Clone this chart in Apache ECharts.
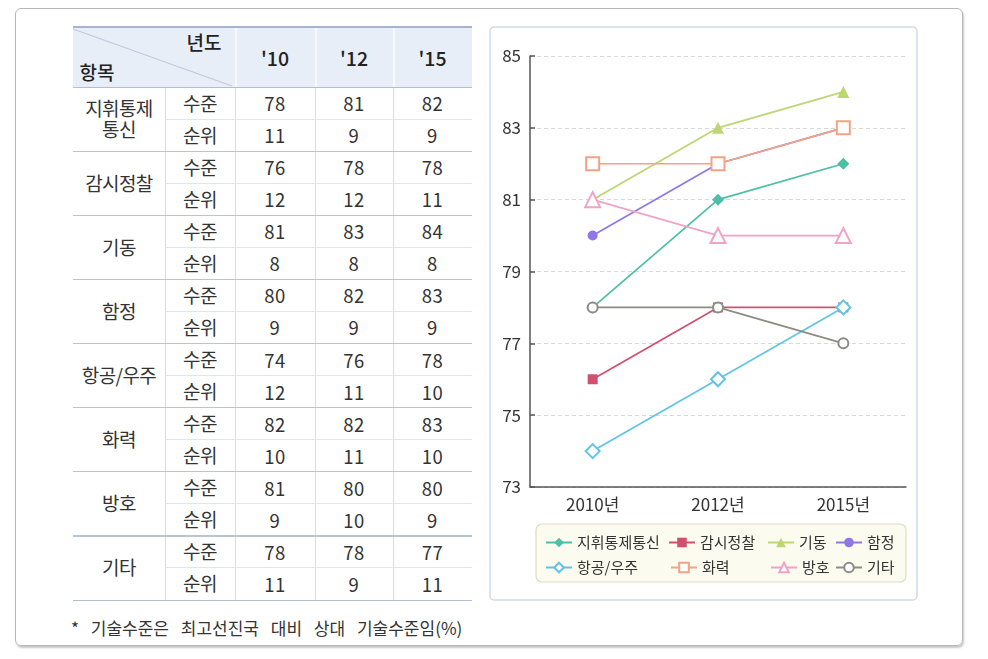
<!DOCTYPE html>
<html><head><meta charset="utf-8">
<script src="https://cdn.jsdelivr.net/npm/echarts@6/dist/echarts.min.js"></script>
<style>
html,body{margin:0;padding:0;background:#fff;width:988px;height:659px;overflow:hidden;font-family:"Noto Sans CJK KR","Noto Sans",sans-serif;color:#333}
#frame{position:absolute;left:15px;top:8px;width:946px;height:636px;border:1.5px solid #b8b8b8;border-radius:6px;box-shadow:1px 2px 2px rgba(0,0,0,0.22)}
.a{position:absolute;}
.t{position:absolute;text-align:center;white-space:nowrap;line-height:1.1}
#chart{position:absolute;left:0;top:0;width:988px;height:659px}
</style></head>
<body>
<div id="frame"></div>
<div id="table"></div>
<div id="chart"></div>
<script>
// ---- data ----
const items = ['지휘통제통신','감시정찰','기동','함정','항공/우주','화력','방호','기타'];
const tableItemLabels = ['지휘통제<br>통신','감시정찰','기동','함정','항공/우주','화력','방호','기타'];
const categories = ['2010년','2012년','2015년'];
const tableYears = ["'10","'12","'15"];
const rowKinds = ['수준','순위'];
const lvl_jihwi = [78,81,82];  const rank_jihwi = [11,9,9];
const lvl_gamsi = [76,78,78];  const rank_gamsi = [12,12,11];
const lvl_gidong = [81,83,84]; const rank_gidong = [8,8,8];
const lvl_hamjeong = [80,82,83]; const rank_hamjeong = [9,9,9];
const lvl_hanggong = [74,76,78]; const rank_hanggong = [12,11,10];
const lvl_hwaryeok = [82,82,83]; const rank_hwaryeok = [10,11,10];
const lvl_bangho = [81,80,80]; const rank_bangho = [9,10,9];
const lvl_gita = [78,78,77]; const rank_gita = [11,9,11];
const levels = [lvl_jihwi,lvl_gamsi,lvl_gidong,lvl_hamjeong,lvl_hanggong,lvl_hwaryeok,lvl_bangho,lvl_gita];
const ranks = [rank_jihwi,rank_gamsi,rank_gidong,rank_hamjeong,rank_hanggong,rank_hwaryeok,rank_bangho,rank_gita];
const footnote = '* 기술수준은 최고선진국 대비 상대 기술수준임(%)';

// ---- table ----
const T = document.getElementById('table');
function box(x,y,w,h,bg){const d=document.createElement('div');d.className='a';Object.assign(d.style,{left:x+'px',top:y+'px',width:w+'px',height:h+'px',background:bg});T.appendChild(d);return d;}
function txt(cx,cy,w,html,size,extra){const d=document.createElement('div');d.className='t';d.innerHTML=html;Object.assign(d.style,{left:(cx-w/2)+'px',width:w+'px',fontSize:size+'px'},extra||{});T.appendChild(d);d.style.top=(cy-d.offsetHeight/2)+'px';return d;}
const colX=[73,165,235,315,393,472];
const hTop=27,hBot=87,rowH=(600-87)/16;
box(73,hTop,399,hBot-hTop,'#e8eef7');
box(73,hTop-1,399,2,'#a3b5cf');
const svgNS='http://www.w3.org/2000/svg';
const svg=document.createElementNS(svgNS,'svg');
svg.setAttribute('width','988');svg.setAttribute('height','659');
svg.style.position='absolute';svg.style.left='0';svg.style.top='0';
const ln=document.createElementNS(svgNS,'line');
ln.setAttribute('x1',73);ln.setAttribute('y1',29);ln.setAttribute('x2',232);ln.setAttribute('y2',86);
ln.setAttribute('stroke','#bfcadb');ln.setAttribute('stroke-width','1.2');
svg.appendChild(ln);T.appendChild(svg);
[235,315,393].forEach(x=>box(x,hTop+1,1.5,hBot-hTop-1,'#f7f9fc'));
[165,235,315,393].forEach(x=>box(x,hBot,1,600-hBot,'#d6dde8'));
box(73,hBot-0.5,399,1.5,'#b2bfd0');
for(let k=1;k<8;k++) box(73,hBot+2*k*rowH-0.5,399,1.2,'#bac5d4');
for(let k=0;k<8;k++) box(165,hBot+(2*k+1)*rowH-0.5,307,1,'#dfe5ee');
box(73,599.5,399,1.5,'#b2bfd0');
const HF={fontWeight:'500',color:'#222'};
txt(204,42,60,'년도',19,HF);
txt(97,72,60,'항목',19,HF);
tableYears.forEach((y,i)=>txt((colX[i+2]+colX[i+3])/2,57,70,y,19.5,HF));
const NF={letterSpacing:'0.5px'};
items.forEach((it,g)=>{
  txt(119,hBot+(2*g+1)*rowH,92,tableItemLabels[g],19,{letterSpacing:'-0.6px'});
  [levels[g],ranks[g]].forEach((arr,r)=>{
    const cy=hBot+(2*g+r+0.5)*rowH;
    txt(200,cy,70,rowKinds[r],19,{letterSpacing:'-0.5px'});
    arr.forEach((v,i)=>txt((colX[i+2]+colX[i+3])/2,cy,70,String(v),18.5,NF));
  });
});
const fn=document.createElement('div');fn.className='a';fn.textContent=footnote;
Object.assign(fn.style,{left:'71px',top:'615px',fontSize:'17px',wordSpacing:'8px',whiteSpace:'nowrap'});T.appendChild(fn);

// ---- chart ----
const colors=['#4cbfa6','#d2506f','#bcd672','#8f78e6','#62c3e6','#f2a383','#f0a3c6','#8c8c84'];
const symbols=['diamond','rect','triangle','circle','emptyDiamond','emptyRect','emptyTriangle','emptyCircle'];
const sizes=[12,10,12,10,14,13,15,10];
const legendPos=[[545,535],[668,535],[767,535],[835,535],[545,560],[670,560],[770,560],[835,560]];
const chart=echarts.init(document.getElementById('chart'),null,{renderer:'canvas'});
chart.setOption({
  animation:false,
  textStyle:{fontFamily:'"Noto Sans CJK KR","Noto Sans",sans-serif'},
  graphic:[
    {type:'rect',z:0,shape:{x:490,y:27,width:427,height:573,r:4},style:{fill:'none',stroke:'#cfdbe4',lineWidth:1.5}},
    {type:'rect',z:0,shape:{x:536,y:524,width:370,height:58,r:6},style:{fill:'#fbfbef',stroke:'#e0dcc0',lineWidth:1.2}}
  ],
  grid:{left:530,right:82,top:56,bottom:172},
  xAxis:{type:'category',data:categories,boundaryGap:true,
    axisLine:{lineStyle:{color:'#555',width:1.5}},
    axisTick:{inside:true,length:5,lineStyle:{color:'#555',width:1.5}},
    axisLabel:{fontSize:17,color:'#333',margin:9}},
  yAxis:{type:'value',min:73,max:85,interval:2,
    axisLine:{show:true,lineStyle:{color:'#555',width:1.5}},
    axisTick:{show:true,inside:true,length:5,lineStyle:{color:'#555',width:1.5}},
    axisLabel:{fontSize:17,color:'#333',margin:9},
    splitLine:{lineStyle:{color:'#d8d8d8',type:[4,3],width:1}}},
  legend:items.map((n,i)=>({data:[n],left:legendPos[i][0],top:legendPos[i][1],padding:0,itemWidth:26,itemHeight:12,itemGap:6,
    textStyle:{fontSize:15,color:'#333'}})),
  series:items.map((n,i)=>({name:n,type:'line',data:levels[i],symbol:symbols[i],symbolSize:sizes[i],
    itemStyle:{color:colors[i],borderWidth:(i>=4?2:0)},lineStyle:{color:colors[i],width:1.7}}))
});
</script>
</body></html>
